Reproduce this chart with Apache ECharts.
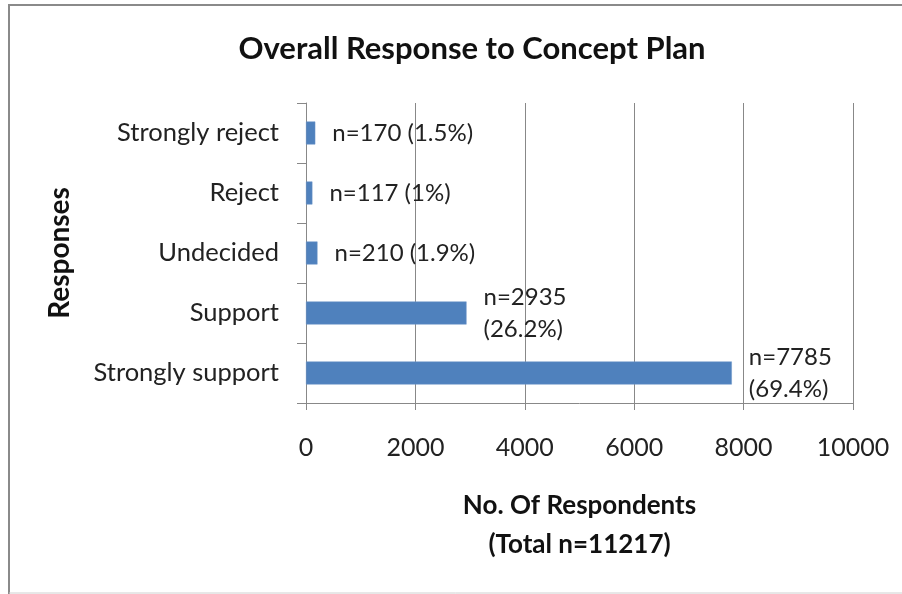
<!DOCTYPE html>
<html>
<head>
<meta charset="utf-8">
<script src="https://cdn.jsdelivr.net/npm/echarts@6/dist/echarts.min.js"></script>
<style>
html,body{margin:0;padding:0;background:#fff;}
#chart{width:902px;height:594px;}
</style>
</head>
<body>
<div id="chart"></div>
<script>
var categories = ['Strongly reject', 'Reject', 'Undecided', 'Support', 'Strongly support'];
var counts = [170, 117, 210, 2935, 7785];
var percents = ['1.5%', '1%', '1.9%', '26.2%', '69.4%'];
var xTicks = [0, 2000, 4000, 6000, 8000, 10000];

var FONT = 'Lato';
var chart = echarts.init(document.getElementById('chart'));
chart.setOption({
  backgroundColor: '#ffffff',
  animation: false,
  title: {
    text: 'Overall Response to Concept Plan',
    left: 467,
    textAlign: 'center',
    top: 28,
    textStyle: { fontFamily: FONT, fontWeight: 'bold', fontSize: 31, color: '#111' }
  },
  graphic: [
    { type: 'line', shape: { x1: 8, y1: 5, x2: 902, y2: 5 }, style: { stroke: '#8a8a8a', lineWidth: 2 } },
    { type: 'line', shape: { x1: 9, y1: 4, x2: 9, y2: 594 }, style: { stroke: '#8a8a8a', lineWidth: 2 } },
    { type: 'line', shape: { x1: 9, y1: 593, x2: 902, y2: 593 }, style: { stroke: '#d0d0d0', lineWidth: 1 } }
  ],
  grid: { left: 306, right: 49, top: 103, bottom: 191, containLabel: false },
  xAxis: {
    type: 'value',
    min: xTicks[0],
    max: xTicks[xTicks.length - 1],
    interval: xTicks[1] - xTicks[0],
    name: 'No. Of Respondents\n(Total n=11217)',
    nameLocation: 'middle',
    nameGap: 83,
    nameTextStyle: { fontFamily: FONT, fontWeight: 'bold', fontSize: 26, lineHeight: 39, color: '#111' },
    axisLine: { show: true, lineStyle: { color: '#888', width: 1 } },
    axisTick: { show: true, length: 7, lineStyle: { color: '#888' } },
    axisLabel: {
      fontFamily: FONT, fontSize: 25, color: '#222', margin: 32,
      formatter: function (v) { return String(v); }
    },
    splitLine: { show: true, lineStyle: { color: '#888', width: 1 } }
  },
  yAxis: {
    type: 'category',
    inverse: true,
    data: categories,
    name: 'Responses',
    nameLocation: 'middle',
    nameRotate: 90,
    nameGap: 232,
    nameTextStyle: { fontFamily: FONT, fontWeight: 'bold', fontSize: 28, color: '#111' },
    axisLine: { show: true, lineStyle: { color: '#888', width: 1 } },
    axisTick: { show: true, length: 9, alignWithLabel: false, lineStyle: { color: '#888' } },
    axisLabel: { fontFamily: FONT, fontSize: 25.5, color: '#222', margin: 27 },
    splitLine: { show: false }
  },
  series: [{
    type: 'bar',
    data: counts,
    barWidth: 23,
    itemStyle: { color: '#4f81bd', borderColor: '#6f97c9', borderWidth: 0.5 },
    label: {
      show: true,
      position: 'right',
      distance: 17,
      fontFamily: FONT,
      fontSize: 24,
      lineHeight: 32,
      color: '#222',
      formatter: function (p) {
        var i = p.dataIndex;
        return counts[i] > 1000
          ? 'n=' + counts[i] + '\n(' + percents[i] + ')'
          : 'n=' + counts[i] + ' (' + percents[i] + ')';
      }
    }
  }]
});
</script>
</body>
</html>
